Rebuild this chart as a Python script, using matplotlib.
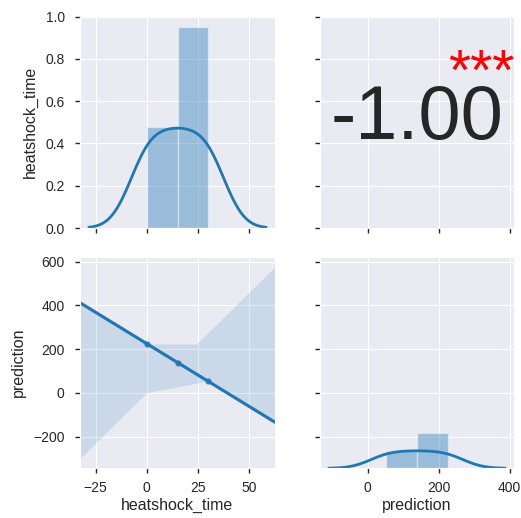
import numpy as np
import matplotlib
matplotlib.use("Agg")
import matplotlib.pyplot as plt
import seaborn as sns

# ---- data ----
heatshock_time = np.array([0.0, 15.0, 30.0])
prediction = np.array([225.0, 139.0, 53.0])
var_names = ["heatshock_time", "prediction"]
stars = "***"

sns.set_style("darkgrid", {
    "xtick.bottom": True, "ytick.left": True,
    "xtick.color": ".15", "ytick.color": ".15",
})
plt.rcParams['font.family'] = ['Liberation Sans', 'DejaVu Sans']
plt.rcParams.update({
    "xtick.major.size": 3.5, "ytick.major.size": 3.5,
    "xtick.major.width": 1.0, "ytick.major.width": 1.0,
    "xtick.major.pad": 5.5, "ytick.major.pad": 7.5,
    "xtick.labelsize": 10, "ytick.labelsize": 10,
    "axes.labelsize": 11.5, "axes.labelcolor": ".15",
    "lines.linewidth": 1.5,
})

W, H = 521, 518
fig = plt.figure(figsize=(W / 100, H / 100), dpi=100)

def rect(l, r, t, b):
    return [l / W, (H - b) / H, (r - l) / W, (b - t) / H]

cols = [(80, 275), (320, 514)]
rows = [(16.7, 228), (256.7, 468.3)]

ax00 = fig.add_axes(rect(*cols[0], *rows[0]))
ax01 = fig.add_axes(rect(*cols[1], *rows[0]), sharey=ax00)
ax10 = fig.add_axes(rect(*cols[0], *rows[1]), sharex=ax00)
ax11 = fig.add_axes(rect(*cols[1], *rows[1]), sharey=ax10)
ax01.sharex(ax11)

data = [heatshock_time, prediction]
color = "#1f77b4"

def kde_statsmodels(x, cut=3, gridsize=100):
    n = len(x)
    iqr = (np.percentile(x, 75) - np.percentile(x, 25)) / 1.349
    A = min(np.std(x, ddof=1), iqr)
    bw = 1.059 * A * n ** (-0.2)
    grid = np.linspace(x.min() - cut * bw, x.max() + cut * bw, gridsize)
    dens = np.exp(-0.5 * ((grid[:, None] - x[None, :]) / bw) ** 2).sum(1)
    dens /= (n * bw * np.sqrt(2 * np.pi))
    return grid, dens

# diagonal: twin axes sharing y with each other
t0 = ax00.twinx()
t1 = ax11.twinx()
t1.sharey(t0)
for tax, d in zip([t0, t1], data):
    tax.hist(d, bins=2, density=True, color=color, alpha=0.4)
    g, dens = kde_statsmodels(d)
    tax.plot(g, dens, color=color, lw=2)
    tax.grid(False)
    tax.tick_params(right=False, labelright=False)
    tax.set_ylabel("")

# lower: regression
ax10.get_xlim()
sns.regplot(x=heatshock_time, y=prediction, ax=ax10, truncate=False,
            color=color, seed=0, n_boot=1000, scatter_kws={"s": 12})

# upper: correlation annotation
r = np.corrcoef(heatshock_time, prediction)[0, 1]
ax01.text(0.5, 0.514, f"{r:.2f}", transform=ax01.transAxes, ha="center",
          va="center", fontsize=54.5, color=".15")
ax01.text(0.66, 0.726, stars, transform=ax01.transAxes, ha="left",
          va="center", fontsize=41, color="red", clip_on=False)

# labels & tick label visibility
ax00.set_ylabel(var_names[0], labelpad=5.5)
ax10.set_ylabel(var_names[1], labelpad=5.5)
ax10.set_xlabel(var_names[0], labelpad=2)
ax11.set_xlabel(var_names[1], labelpad=2)
ax00.tick_params(labelbottom=False)
ax01.tick_params(labelbottom=False, labelleft=False)
ax11.tick_params(labelleft=False)
ax01.set_ylabel("")
ax11.set_ylabel("")

fig.savefig("out.png", dpi=100)
